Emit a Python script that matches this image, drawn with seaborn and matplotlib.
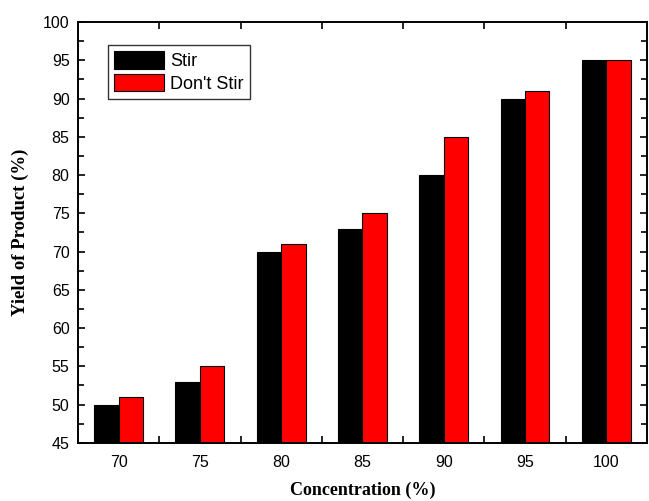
import matplotlib
matplotlib.use("Agg")
import matplotlib.pyplot as plt
from matplotlib.ticker import MultipleLocator, FixedLocator
import seaborn as sns
import pandas as pd

concentrations = ["70", "75", "80", "85", "90", "95", "100"]
stir = [50, 53, 70, 73, 80, 90, 95]
dont_stir = [51, 55, 71, 75, 85, 91, 95]
series_names = ["Stir", "Don't Stir"]

df = pd.DataFrame({
    "Concentration": concentrations * 2,
    "Yield": stir + dont_stir,
    "Method": [series_names[0]] * len(stir) + [series_names[1]] * len(dont_stir),
})

sns.set_style("ticks", {"axes.edgecolor": "black", "xtick.color": "black",
                        "ytick.color": "black", "text.color": "black",
                        "axes.labelcolor": "black"})
plt.rcParams["font.family"] = ["Liberation Sans", "DejaVu Sans"]

fig = plt.figure(figsize=(6.49, 5.01), dpi=100)
ax = fig.add_axes([0.120, 0.116, 0.877, 0.840])

sns.barplot(data=df, x="Concentration", y="Yield", hue="Method",
            order=concentrations, hue_order=series_names,
            palette=["#000000", "#ff0000"], saturation=1, width=0.6, gap=0,
            edgecolor="black", linewidth=0.8, ax=ax)

ax.set_ylim(45, 100)
ax.set_xlim(-0.5, len(concentrations) - 0.5)
ax.yaxis.set_major_locator(MultipleLocator(5))
ax.yaxis.set_minor_locator(MultipleLocator(2.5))
ax.xaxis.set_minor_locator(FixedLocator([i + 0.5 for i in range(len(concentrations) - 1)]))

ax.tick_params(axis="both", which="both", direction="in", top=True, right=True,
               width=1.2, labelsize=11.5, colors="black")
ax.tick_params(axis="both", which="major", length=5)
ax.tick_params(axis="both", which="minor", length=4)
ax.tick_params(axis="y", which="major", pad=6)
ax.tick_params(axis="x", which="major", length=0, pad=9)
ax.tick_params(axis="x", which="minor", length=5)
for s in ax.spines.values():
    s.set_linewidth(1.4)
    s.set_color("black")

serif = ["Liberation Serif", "DejaVu Serif"]
ax.set_xlabel("Concentration (%)", fontsize=13, fontweight="bold", family=serif, labelpad=8)
ax.set_ylabel("Yield of Product (%)", fontsize=13.5, fontweight="bold", family=serif, labelpad=10)

leg = ax.legend(loc="upper left", bbox_to_anchor=(0.0527, 0.9455), fontsize=13,
                frameon=True, fancybox=False, edgecolor="black", handlelength=2.75,
                handleheight=1.1, borderpad=0.35, labelspacing=0.2, handletextpad=0.35,
                borderaxespad=0)
leg.get_frame().set_linewidth(1.0)
leg.set_title(None)

fig.savefig("out.png", dpi=100)
